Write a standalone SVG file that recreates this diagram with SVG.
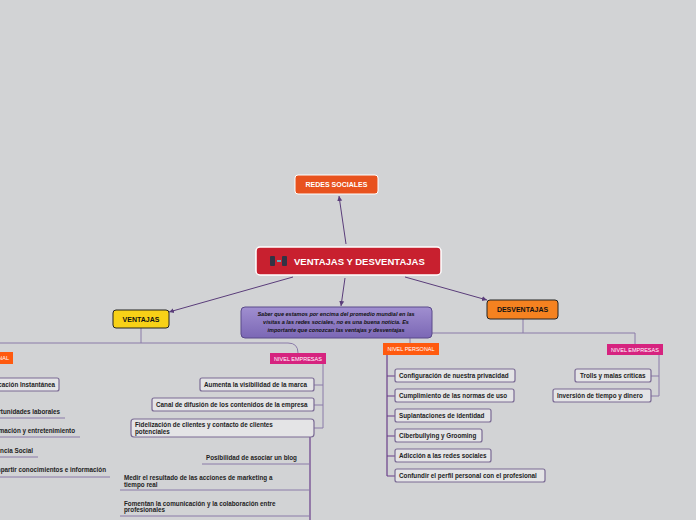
<svg xmlns="http://www.w3.org/2000/svg" width="696" height="520" viewBox="0 0 696 520">
<defs>
<style>
text{font-family:"Liberation Sans",Arial,sans-serif}
.it{fill:#e4e4e6;stroke:#7a6a94;stroke-width:1.2}
.t{font-size:6.3px;font-weight:bold;fill:#222}
.ln{stroke:#8a7aa8;stroke-width:1;fill:none}
.dk{stroke:#6a3f8a;stroke-width:1.2;fill:none}
.ul{stroke:#8a7aa8;stroke-width:1}
.lvl{font-size:5.5px;fill:#fff}
</style>
<marker id="ah" markerWidth="6" markerHeight="6" refX="5" refY="3" orient="auto"><path d="M0,0.5 L5,3 L0,5.5z" fill="#5a3d7a"/></marker>
<linearGradient id="pg" x1="0" y1="0" x2="0" y2="1"><stop offset="0" stop-color="#a08fd0"/><stop offset="1" stop-color="#7b67b5"/></linearGradient>
</defs>
<rect width="696" height="520" fill="#d2d3d5"/>
<g id="connectors">
<line x1="346" y1="244" x2="339" y2="196" stroke="#5a3d7a" stroke-width="1" marker-end="url(#ah)"/>
<line x1="293" y1="277" x2="169" y2="312" stroke="#5a3d7a" stroke-width="1" marker-end="url(#ah)"/>
<line x1="345" y1="278" x2="341" y2="306" stroke="#5a3d7a" stroke-width="1" marker-end="url(#ah)"/>
<line x1="405" y1="277" x2="487" y2="300" stroke="#5a3d7a" stroke-width="1" marker-end="url(#ah)"/>
<path class="ln" d="M141,328 V343 M0,343 H288 Q298,343 298,353"/>
<path class="ln" d="M323,364 V428 M314,385 H323 M314,405 H323 M314,428 H323"/>
<path class="dk" d="M310,437 V520"/>
<line class="ul" x1="202" y1="464" x2="310" y2="464"/>
<line class="ul" x1="120" y1="490" x2="310" y2="490"/>
<line class="ul" x1="120" y1="516" x2="310" y2="516"/>
<line class="ul" x1="0" y1="418" x2="65" y2="418"/>
<line class="ul" x1="0" y1="437" x2="80" y2="437"/>
<line class="ul" x1="0" y1="457" x2="38" y2="457"/>
<line class="ul" x1="0" y1="477" x2="110" y2="477"/>
<path class="ln" d="M523,319 V333 M410,338 V343 M432,333 H635 V344"/>
<path class="dk" d="M387,355 V476 M387,376 H395 M387,396 H395 M387,416 H395 M387,436 H395 M387,456 H395 M387,476 H395"/>
<path class="ln" d="M659,355 V396 M651,376 H659 M651,396 H659"/>
</g>
<g id="redes"><rect x="295" y="175" width="83" height="19" rx="3" fill="#e8521e" stroke="#fff" stroke-width="1"/><text x="336.5" y="187" font-size="7px" font-weight="bold" fill="#fff" text-anchor="middle">REDES SOCIALES</text></g>
<g id="central"><rect x="256" y="247" width="185" height="28" rx="4" fill="#c8202f" stroke="#fff" stroke-width="1.5"/>
<rect x="270" y="256" width="5" height="10" rx="1" fill="#334"/><rect x="282" y="256" width="5" height="10" rx="1" fill="#334"/><rect x="277" y="260" width="4" height="2" fill="#6ab"/>
<text x="294" y="265" font-size="9.5px" font-weight="bold" fill="#fff">VENTAJAS Y DESVENTAJAS</text></g>
<g id="ventajas"><rect x="113" y="310" width="56" height="18" rx="3" fill="#f7d117" stroke="#222" stroke-width="1"/><text x="141" y="322" font-size="7px" font-weight="bold" fill="#111" text-anchor="middle">VENTAJAS</text></g>
<g id="desventajas"><rect x="487" y="300" width="71" height="19" rx="3" fill="#f58220" stroke="#222" stroke-width="1"/><text x="522.5" y="312" font-size="7px" font-weight="bold" fill="#111" text-anchor="middle">DESVENTAJAS</text></g>
<g id="nota"><rect x="241" y="307" width="191" height="31" rx="4" fill="url(#pg)" stroke="#5a4a8a" stroke-width="1"/>
<text font-size="5.5px" font-weight="bold" font-style="italic" fill="#111" text-anchor="middle"><tspan x="336" y="316">Saber que estamos por encima del promedio mundial en las</tspan><tspan x="336" y="324">visitas a las redes sociales, no es una buena noticia. Es</tspan><tspan x="336" y="332">importante que conozcan las ventajas y desventajas</tspan></text></g>
<g id="vp"><rect x="-10" y="352" width="23" height="12" fill="#ff5a0f"/><text x="9" y="360" class="lvl" text-anchor="end">NIVEL PERSONAL</text></g>
<g id="vp1"><rect x="-10" y="378" width="69" height="13" rx="2" class="it"/><text x="55" y="387" class="t" text-anchor="end">Comunicación Instantánea</text></g>
<g id="vp2"><text x="60" y="414" class="t" text-anchor="end">Oportunidades laborales</text></g>
<g id="vp3"><text x="75" y="433" class="t" text-anchor="end">Información y entretenimiento</text></g>
<g id="vp4"><text x="33" y="453" class="t" text-anchor="end">Presencia Social</text></g>
<g id="vp5"><text x="106" y="472" class="t" text-anchor="end">Compartir conocimientos e información</text></g>
<g id="ve"><rect x="270" y="353" width="56" height="11" fill="#d6237f"/><text x="298" y="361" class="lvl" text-anchor="middle">NIVEL EMPRESAS</text></g>
<g id="ve1"><rect x="200" y="378" width="114" height="13" rx="2" class="it"/><text x="204" y="387" class="t">Aumenta la visibilidad de la marca</text></g>
<g id="ve2"><rect x="152" y="398" width="162" height="13" rx="2" class="it"/><text x="156" y="407" class="t">Canal de difusión de los contenidos de la empresa</text></g>
<g id="ve3"><rect x="131" y="419" width="183" height="18" rx="3" class="it"/><text x="135" y="427" class="t">Fidelización de clientes y contacto de clientes</text><text x="135" y="434" class="t">potenciales</text></g>
<g id="ve4"><text x="206" y="460" class="t">Posibilidad de asociar un blog</text></g>
<g id="ve5"><text x="124" y="480" class="t">Medir el resultado de las acciones de marketing a</text><text x="124" y="487" class="t">tiempo real</text></g>
<g id="ve6"><text x="124" y="506" class="t">Fomentan la comunicación y la colaboración entre</text><text x="124" y="512" class="t">profesionales</text></g>
<g id="dp"><rect x="383" y="343" width="56" height="12" fill="#ff5a0f"/><text x="411" y="351" class="lvl" text-anchor="middle">NIVEL PERSONAL</text></g>
<g id="dp1"><rect x="395" y="369" width="120" height="13" rx="2" class="it"/><text x="399" y="378" class="t">Configuración de nuestra privacidad</text></g>
<g id="dp2"><rect x="395" y="389" width="119" height="13" rx="2" class="it"/><text x="399" y="398" class="t">Cumplimiento de las normas de uso</text></g>
<g id="dp3"><rect x="395" y="409" width="96" height="13" rx="2" class="it"/><text x="399" y="418" class="t">Suplantaciones de identidad</text></g>
<g id="dp4"><rect x="395" y="429" width="87" height="13" rx="2" class="it"/><text x="399" y="438" class="t">Ciberbullying y Grooming</text></g>
<g id="dp5"><rect x="395" y="449" width="96" height="13" rx="2" class="it"/><text x="399" y="458" class="t">Adicción a las redes sociales</text></g>
<g id="dp6"><rect x="395" y="469" width="150" height="13" rx="2" class="it"/><text x="399" y="478" class="t">Confundir el perfil personal con el profesional</text></g>
<g id="de"><rect x="607" y="344" width="56" height="11" fill="#d6237f"/><text x="635" y="352" class="lvl" text-anchor="middle">NIVEL EMPRESAS</text></g>
<g id="de1"><rect x="575" y="369" width="76" height="13" rx="2" class="it"/><text x="580" y="378" class="t">Trolls y malas críticas</text></g>
<g id="de2"><rect x="553" y="389" width="98" height="13" rx="2" class="it"/><text x="557" y="398" class="t">Inversión de tiempo y dinero</text></g>
</svg>
